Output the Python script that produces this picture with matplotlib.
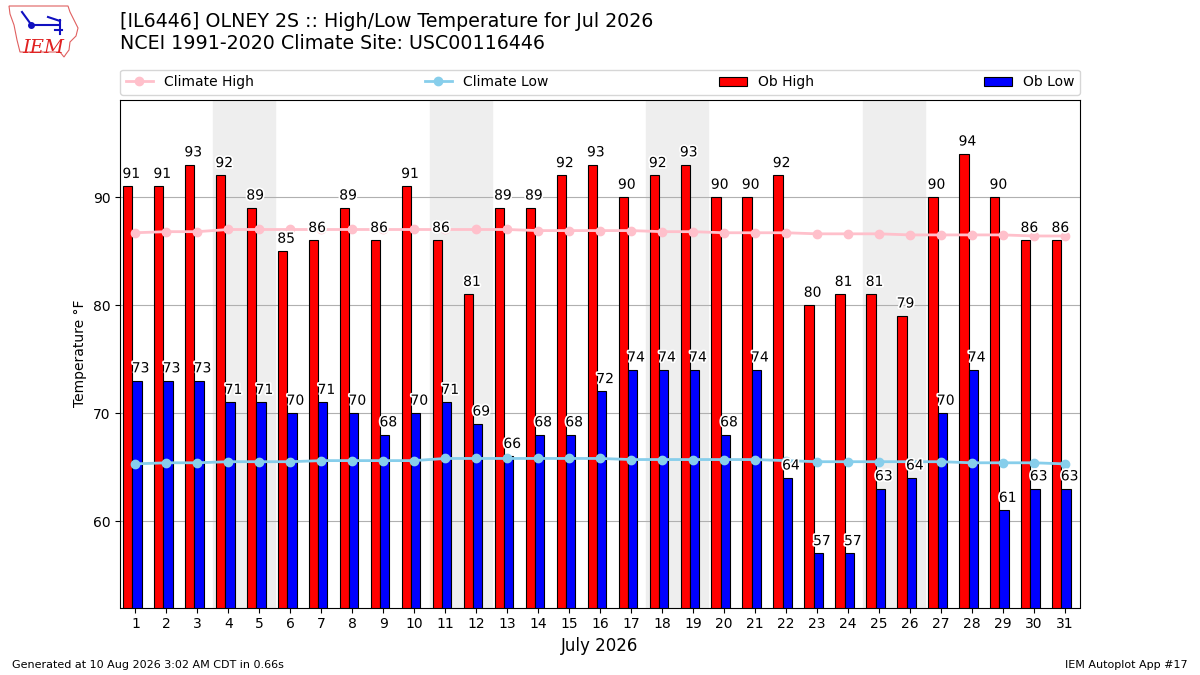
import numpy as np
import matplotlib
matplotlib.use("Agg")
import matplotlib.pyplot as plt
import matplotlib.patheffects as pe
from matplotlib.patches import Polygon
from matplotlib.lines import Line2D

days = np.arange(1, 32)
ob_high = [91, 91, 93, 92, 89, 85, 86, 89, 86, 91, 86, 81, 89, 89, 92, 93,
           90, 92, 93, 90, 90, 92, 80, 81, 81, 79, 90, 94, 90, 86, 86]
ob_low = [73, 73, 73, 71, 71, 70, 71, 70, 68, 70, 71, 69, 66, 68, 68, 72,
          74, 74, 74, 68, 74, 64, 57, 57, 63, 64, 70, 74, 61, 63, 63]
climate_high = [86.7, 86.8, 86.8, 87.0, 87.0, 87.0, 87.0, 87.0, 87.0, 87.0,
                87.0, 87.0, 87.0, 86.9, 86.9, 86.9, 86.9, 86.8, 86.8, 86.7,
                86.7, 86.7, 86.6, 86.6, 86.6, 86.5, 86.5, 86.5, 86.5, 86.4, 86.4]
climate_low = [65.3, 65.4, 65.4, 65.5, 65.5, 65.5, 65.6, 65.6, 65.6, 65.6,
               65.8, 65.8, 65.8, 65.8, 65.8, 65.8, 65.7, 65.7, 65.7, 65.7,
               65.7, 65.6, 65.5, 65.5, 65.5, 65.5, 65.5, 65.4, 65.4, 65.4, 65.3]
weekends = [(4, 5), (11, 12), (18, 19), (25, 26)]

fig = plt.figure(figsize=(12, 6.75), dpi=100)
ax = fig.add_axes([0.1, 0.1, 0.8, 0.752])

for start, end in weekends:
    ax.axvspan(start - 0.5, end + 0.5, color="#eeeeee", zorder=0)

ax.bar(days - 0.4, ob_high, width=0.3, align="edge", fc="r", ec="k",
       linewidth=0.8, label="Ob High", zorder=2)
ax.bar(days - 0.1, ob_low, width=0.3, align="edge", fc="b", ec="k",
       linewidth=0.8, label="Ob Low", zorder=2)

ax.plot(days, climate_high, color="pink", marker="o", lw=2, ms=6,
        label="Climate High", zorder=3)
ax.plot(days, climate_low, color="skyblue", marker="o", lw=2, ms=6,
        label="Climate Low", zorder=3)

halo = [pe.withStroke(linewidth=2.5, foreground="white")]
for d, hi, lo in zip(days, ob_high, ob_low):
    ax.text(d - 0.42, hi + 0.5, f"{hi}", fontsize=10, va="bottom", zorder=4,
            path_effects=halo)
    ax.text(d - 0.12, lo + 0.5, f"{lo}", fontsize=10, va="bottom", zorder=4,
            path_effects=halo)

ax.set_xlim(0.5, 31.5)
ax.set_ylim(min(ob_low) - 5, max(ob_high) + 5)
ax.set_xticks(days)
ax.set_yticks([60, 70, 80, 90])
ax.tick_params(labelsize=10)
ax.grid(axis="y", color="#b0b0b0", zorder=1)
ax.set_axisbelow(True)
ax.set_ylabel("Temperature °F")
ax.set_xlabel("July 2026", fontsize=12)

handles, labels = ax.get_legend_handles_labels()
order = [labels.index(n) for n in ["Climate High", "Climate Low", "Ob High", "Ob Low"]]
ax.legend([handles[i] for i in order], [labels[i] for i in order],
          ncol=4, mode="expand", loc="lower left",
          bbox_to_anchor=(0, 1.01, 1, 0.05), fontsize=10, borderaxespad=0)

fig.text(0.1, 0.982,
         "[IL6446] OLNEY 2S :: High/Low Temperature for Jul 2026\n"
         "NCEI 1991-2020 Climate Site: USC00116446",
         fontsize=13.7, va="top", ha="left")


# rough IEM logo (state outline, little station glyph, red letters)
def px(x, y):
    return [x / 1200, 1 - y / 675]


outline = Polygon([px(9, 6), px(68, 6), px(70, 12), px(74, 20), px(78, 28),
                   px(76, 36), px(70, 42), px(69, 50), px(66, 54), px(64, 57),
                   px(60, 52), px(20, 52), px(17, 40), px(14, 25), px(10, 14)],
                  closed=True, fill=False, ec="#e06060", lw=0.8,
                  transform=fig.transFigure)
fig.add_artist(outline)
blue = "#1010c0"
for seg in [[px(31, 25), px(58, 25)], [px(22, 12), px(30, 23)],
            [px(48, 17), px(60, 21)], [px(60, 20), px(60, 34)],
            [px(55, 30), px(62, 30)]]:
    xs, ys = zip(*seg)
    fig.add_artist(Line2D(xs, ys, color=blue, lw=1.5, transform=fig.transFigure))
fig.add_artist(Line2D(*zip(px(31, 25)), marker="o", ms=4, color=blue,
                      transform=fig.transFigure))
fig.text(22 / 1200, 1 - 53 / 675, "IEM", color="#e02020", fontsize=14,
         family="serif", style="italic")

fig.text(0.01, 0.01, "Generated at 10 Aug 2026 3:02 AM CDT in 0.66s", fontsize=8)
fig.text(0.99, 0.01, "IEM Autoplot App #17", fontsize=8, ha="right")

fig.savefig("out.png", dpi=100)
